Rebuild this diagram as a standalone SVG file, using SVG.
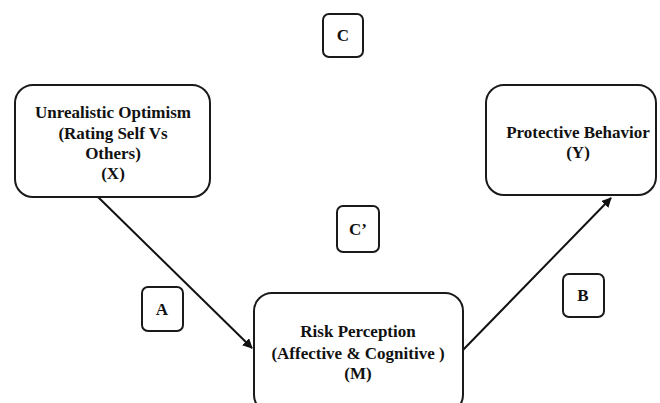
<svg xmlns="http://www.w3.org/2000/svg" width="660" height="403" viewBox="0 0 660 403">
<defs>
<style>
.box{fill:#fff;stroke:#1a1a1a;stroke-width:2}
.t{font-family:"Liberation Serif","Times New Roman",serif;font-weight:bold;font-size:17px;fill:#111;text-anchor:middle}
.lbl{font-family:"Liberation Serif","Times New Roman",serif;font-weight:bold;font-size:17px;fill:#111;text-anchor:middle}
.edge{stroke:#111;stroke-width:2;fill:none}
</style>
<marker id="ah" viewBox="0 0 10 10" refX="9" refY="5" markerWidth="5" markerHeight="5" orient="auto">
<path d="M0,0 L10,5 L0,10 z" fill="#111"/>
</marker>
</defs>
<rect width="660" height="403" fill="#fff"/>
<g id="connectors">
<line class="edge" x1="98" y1="197" x2="252" y2="348" marker-end="url(#ah)"/>
<line class="edge" x1="462" y1="351" x2="611" y2="198" marker-end="url(#ah)"/>
</g>
<g id="nodeX">
<rect class="box" x="15" y="85" width="195" height="112" rx="18"/>
<text class="t" x="113" y="118">Unrealistic Optimism</text>
<text class="t" x="113" y="139">(Rating Self Vs</text>
<text class="t" x="113" y="159">Others)</text>
<text class="t" x="113" y="179">(X)</text>
</g>
<g id="nodeY">
<rect class="box" x="486" y="85" width="170" height="110" rx="18"/>
<text class="t" x="578" y="138">Protective Behavior</text>
<text class="t" x="578" y="158">(Y)</text>
</g>
<g id="nodeM">
<rect class="box" x="254" y="293" width="209" height="120" rx="18"/>
<text class="t" x="358" y="337">Risk Perception</text>
<text class="t" x="358" y="359">(Affective &amp; Cognitive )</text>
<text class="t" x="358" y="379">(M)</text>
</g>
<g id="labelC">
<rect class="box" x="323" y="14" width="40" height="43" rx="6"/>
<text class="lbl" x="343" y="41">C</text>
</g>
<g id="labelCprime">
<rect class="box" x="337" y="206" width="42" height="46" rx="6"/>
<text class="lbl" x="358" y="235">C’</text>
</g>
<g id="labelA">
<rect class="box" x="142" y="287" width="41" height="44" rx="6"/>
<text class="lbl" x="162" y="315">A</text>
</g>
<g id="labelB">
<rect class="box" x="563" y="274" width="41" height="43" rx="6"/>
<text class="lbl" x="583" y="301">B</text>
</g>
</svg>
